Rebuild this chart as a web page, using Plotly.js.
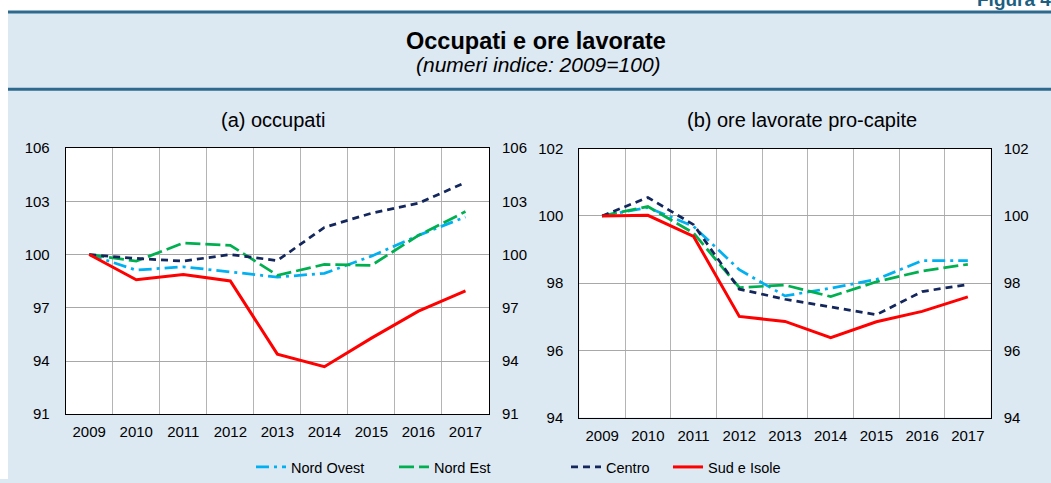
<!DOCTYPE html>
<html><head><meta charset="utf-8">
<script src="https://cdn.plot.ly/plotly-3.0.1.min.js"></script>
<style>html,body{margin:0;padding:0;background:#fff}#chart{width:1051px;height:483px}</style>
</head><body><div id="chart"></div>
<script>
const years = ['2009','2010','2011','2012','2013','2014','2015','2016','2017'];
const seriesNames = ['Nord Ovest','Nord Est','Centro','Sud e Isole'];
// (a) occupati
const occNordOvest = [100, 99.12, 99.31, 99.01, 98.73, 98.94, 99.91, 101.08, 102.12];
const occNordEst   = [100, 99.63, 100.65, 100.52, 98.83, 99.44, 99.39, 101.08, 102.42];
const occCentro    = [100, 99.78, 99.63, 100.00, 99.66, 101.53, 102.33, 102.89, 104.06];
const occSud       = [100, 98.58, 98.88, 98.51, 94.39, 93.68, 95.29, 96.81, 97.95];
// (b) ore lavorate pro-capite
const oreNordOvest = [100, 100.25, 99.69, 98.40, 97.62, 97.85, 98.11, 98.67, 98.67];
const oreNordEst   = [100, 100.28, 99.49, 97.87, 97.94, 97.60, 98.04, 98.36, 98.56];
const oreCentro    = [100, 100.55, 99.74, 97.82, 97.52, 97.28, 97.06, 97.75, 97.96];
const oreSud       = [100, 100.02, 99.39, 97.01, 96.86, 96.38, 96.85, 97.16, 97.59];
const leftTicks = [91, 94, 97, 100, 103, 106];
const rightTicks = [94, 96, 98, 100, 102];

const W = 1051, H = 483;
const px = v => v / W;
const py = v => 1 - v / H;
const FONT = 'Liberation Sans, Arial, Helvetica, sans-serif';

const styles = [
  {color:'#00b0f0', dash:'13px,5px,3px,5px', width:2.75},
  {color:'#00b050', dash:'15px,5px', width:2.75},
  {color:'#14275c', dash:'7px,5px', width:2.75},
  {color:'#ff0000', dash:'solid', width:3}
];
const legendIds = ['legend','legend2','legend3','legend4'];
const occ = [occNordOvest, occNordEst, occCentro, occSud];
const ore = [oreNordOvest, oreNordEst, oreCentro, oreSud];

const traces = [];
occ.forEach((vals, i) => traces.push({
  type:'scatter', mode:'lines', x:years, y:vals, name:seriesNames[i],
  xaxis:'x', yaxis:'y', line:styles[i], legend:legendIds[i], showlegend:true
}));
ore.forEach((vals, i) => traces.push({
  type:'scatter', mode:'lines', x:years, y:vals, name:seriesNames[i],
  xaxis:'x2', yaxis:'y3', line:styles[i], showlegend:false
}));
// invisible carriers so the mirrored right-hand value axes are drawn
traces.push({type:'scatter', mode:'lines', x:years, y:occSud, xaxis:'x', yaxis:'y2',
  line:{width:0, color:'rgba(0,0,0,0)'}, showlegend:false, hoverinfo:'skip'});
traces.push({type:'scatter', mode:'lines', x:years, y:oreSud, xaxis:'x2', yaxis:'y4',
  line:{width:0, color:'rgba(0,0,0,0)'}, showlegend:false, hoverinfo:'skip'});

const tickFont = {family:FONT, size:15, color:'#000'};
const xCommon = {type:'category', tickson:'boundaries', range:[-0.5, 8.5], autorange:false,
  showgrid:true, gridcolor:'#b4b4b4', gridwidth:1,
  showline:true, linecolor:'#000', linewidth:1, mirror:true, ticks:'', tickfont:tickFont,
  ticklabelstandoff:4, zeroline:false, fixedrange:true};
const yCommon = {showgrid:true, gridcolor:'#a8a8a8', gridwidth:1, showline:true, linecolor:'#000',
  linewidth:1, mirror:true, ticks:'', tickfont:tickFont, ticklabelstandoff:12, zeroline:false, autorange:false};

const legendPos = [251, 394, 566, 668];
const legends = {};
legendIds.forEach((id, i) => {
  legends[id] = {x:px(legendPos[i]), y:py(471), xanchor:'left', yanchor:'middle', orientation:'h',
    bgcolor:'rgba(0,0,0,0)', font:{family:FONT, size:14.5, color:'#000'}, itemwidth:30};
});

const layout = Object.assign({
  width:W, height:H, margin:{l:0,r:0,t:0,b:0},
  paper_bgcolor:'#dce8f2', plot_bgcolor:'#ffffff',
  font:{family:FONT, color:'#000'},
  xaxis: Object.assign({}, xCommon, {domain:[px(65.7), px(489)], anchor:'y'}),
  yaxis: Object.assign({}, yCommon, {domain:[py(417.7), py(149.3)], range:[91,106], tickvals:leftTicks, anchor:'x'}),
  yaxis2: Object.assign({}, yCommon, {range:[91,106], tickvals:leftTicks, overlaying:'y', side:'right', anchor:'x', showgrid:false, showline:false}),
  xaxis2: Object.assign({}, xCommon, {domain:[px(579.3), px(990.7)], anchor:'y3'}),
  yaxis3: Object.assign({}, yCommon, {domain:[py(421), py(150)], range:[94,102], tickvals:rightTicks, anchor:'x2'}),
  yaxis4: Object.assign({}, yCommon, {range:[94,102], tickvals:rightTicks, overlaying:'y3', side:'right', anchor:'x2', showgrid:false, showline:false}),
  shapes:[
    {type:'rect', xref:'paper', yref:'paper', x0:0, x1:px(8), y0:0, y1:1, fillcolor:'#ffffff', line:{width:0}, layer:'below'},
    {type:'rect', xref:'paper', yref:'paper', x0:0, x1:1, y0:py(11), y1:1, fillcolor:'#ffffff', line:{width:0}, layer:'below'},
    {type:'line', xref:'paper', yref:'paper', x0:px(8), x1:1, y0:py(12), y1:py(12), line:{color:'#2d6a8d', width:3}},
    {type:'line', xref:'paper', yref:'paper', x0:px(8), x1:1, y0:py(90), y1:py(90), line:{color:'#2d6a8d', width:3}}
  ],
  annotations:[
    {xref:'paper', yref:'paper', x:px(1053), y:py(-1), xanchor:'right', yanchor:'middle', showarrow:false,
     text:'<b>Figura 4</b>', font:{family:FONT, size:19, color:'#1d5f80'}},
    {xref:'paper', yref:'paper', x:px(536), y:py(41), xanchor:'center', yanchor:'middle', showarrow:false,
     text:'<b>Occupati e ore lavorate</b>', font:{family:FONT, size:23.5, color:'#000'}},
    {xref:'paper', yref:'paper', x:px(538), y:py(65), xanchor:'center', yanchor:'middle', showarrow:false,
     text:'<i>(numeri indice: 2009=100)</i>', font:{family:FONT, size:21, color:'#000'}},
    {xref:'paper', yref:'paper', x:px(273), y:py(121), xanchor:'center', yanchor:'middle', showarrow:false,
     text:'(a) occupati', font:{family:FONT, size:20, color:'#000'}},
    {xref:'paper', yref:'paper', x:px(802), y:py(121), xanchor:'center', yanchor:'middle', showarrow:false,
     text:'(b) ore lavorate pro-capite', font:{family:FONT, size:20, color:'#000'}}
  ]
}, legends);

Plotly.newPlot('chart', traces, layout, {displayModeBar:false, staticPlot:true});
</script>
</body></html>
